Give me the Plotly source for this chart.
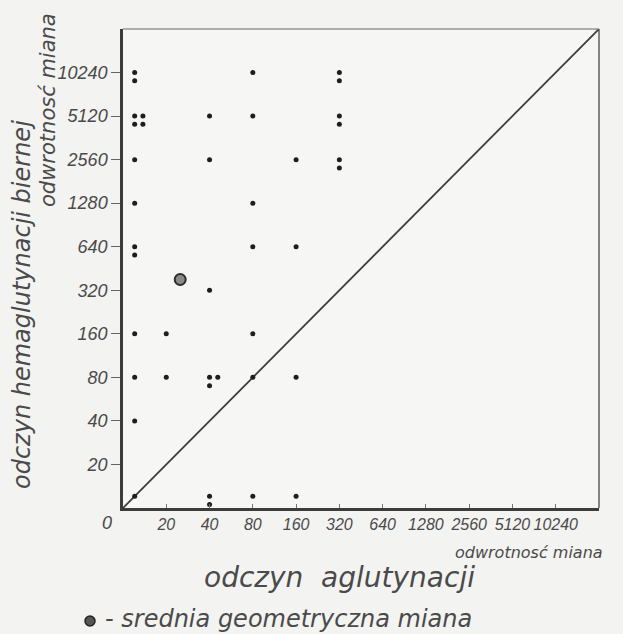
import math
import plotly.graph_objects as go

# Titer scale used on both axes (reciprocal of titer); 0 = no reaction
TITERS = [0, 20, 40, 80, 160, 320, 640, 1280, 2560, 5120, 10240]
TICK_LABELS = ["0", "20", "40", "80", "160", "320", "640", "1280", "2560", "5120", "10240"]

# Individual sera: agglutination titer (x) vs passive haemagglutination titer (y)
AGGL_TITER = [
    0, 0, 0, 0, 0, 0, 0, 0, 0, 0, 0, 0, 0, 0,
    20, 20,
    40, 40, 40, 40, 40, 40, 40, 40,
    80, 80, 80, 80, 80, 80, 80,
    160, 160, 160, 160,
    320, 320, 320, 320, 320, 320,
]
HEMAGGL_TITER = [
    10240, 10240, 5120, 5120, 5120, 5120, 2560, 1280, 640, 640, 160, 80, 40, 0,
    160, 80,
    5120, 2560, 320, 80, 80, 80, 0, 0,
    10240, 5120, 1280, 640, 160, 80, 0,
    2560, 640, 80, 0,
    10240, 10240, 5120, 5120, 2560, 2560,
]

# Geometric mean titer of the group
GEOMEAN_AGGL = 25
GEOMEAN_HEMAGGL = 380

INK = "#3c3c3c"
TEXT = "#4a4a4a"
BG = "#f3f3f1"

N_STEPS = len(TITERS)          # axis runs over 11 equal doubling steps
ZERO_NUDGE = 0.27              # zero titers drawn just inside the axes
STACK = 0.19                   # spacing of coincident points


def titer_pos(t):
    """Position on the doubling scale: 20 -> 1, 40 -> 2, ..."""
    if t <= 0:
        return ZERO_NUDGE
    return 1 + math.log2(t / 20)


# Spread coincident sera: 2nd below, 3rd to the right, 4th below-right
offsets = [(0, 0), (0, -1), (1, 0), (1, -1)]
seen = {}
px, py = [], []
for xt, yt in zip(AGGL_TITER, HEMAGGL_TITER):
    k = seen.get((xt, yt), 0)
    seen[(xt, yt)] = k + 1
    dx, dy = offsets[k % 4]
    px.append(titer_pos(xt) + dx * STACK)
    py.append(titer_pos(yt) + dy * STACK)

fig = go.Figure()

# line of equal titers
fig.add_trace(go.Scatter(
    x=[0, N_STEPS], y=[0, N_STEPS], mode="lines",
    line=dict(color=INK, width=1.8), hoverinfo="skip", showlegend=False,
))

fig.add_trace(go.Scatter(
    x=px, y=py, mode="markers",
    marker=dict(size=5, color="#1e1e1e"),
    showlegend=False,
))

fig.add_trace(go.Scatter(
    x=[titer_pos(GEOMEAN_AGGL)], y=[titer_pos(GEOMEAN_HEMAGGL)], mode="markers",
    marker=dict(size=11, color="#8a8a8a", line=dict(color="#2e2e2e", width=2)),
    showlegend=False,
))

# plot area in pixels
L, R, T, B = 123, 599, 29, 508
W, H = 623, 634


def xp(p):
    return (p - L) / (R - L)


def yp(p):
    return (B - p) / (B - T)


tick_font = dict(family="Liberation Sans, Arial, sans-serif",
                 size=16, color=TEXT, style="italic")
label_font = dict(family="DejaVu Sans, sans-serif", color=TEXT, style="italic", weight=200)

fig.update_xaxes(
    range=[0, N_STEPS], tickmode="array",
    tickvals=list(range(1, N_STEPS)), ticktext=TICK_LABELS[1:],
    ticks="inside", ticklen=4, tickcolor="#777", tickwidth=1, tickangle=0,
    showline=True, linecolor=INK, linewidth=2.5,
    showgrid=False, zeroline=False, tickfont=tick_font,
)
fig.update_yaxes(
    range=[0, N_STEPS], tickmode="array",
    tickvals=list(range(1, N_STEPS)), ticktext=TICK_LABELS[1:],
    ticks="outside", ticklen=9, tickcolor="#666", tickwidth=1,
    showline=True, linecolor=INK, linewidth=2.5,
    showgrid=False, zeroline=False, tickfont=dict(tick_font, size=18),
)

# thin top and right frame edges
fig.add_shape(type="line", xref="x domain", yref="y domain", x0=0, x1=1, y0=1, y1=1,
              line=dict(color="#666", width=1.2))
fig.add_shape(type="line", xref="x domain", yref="y domain", x0=1, x1=1, y0=0, y1=1,
              line=dict(color="#555", width=1.4))

ann = [
    dict(text="0", x=xp(107), y=yp(523), font=dict(tick_font, size=18)),
    dict(text="odczyn hemaglutynacji biernej", x=xp(22), y=yp(305), textangle=-90,
         font=dict(label_font, size=24)),
    dict(text="odwrotnosć miana", x=xp(48), y=yp(110), textangle=-90,
         font=dict(label_font, size=21)),
    dict(text="odwrotnosć miana", x=xp(605), y=yp(552), xanchor="right",
         font=dict(label_font, size=16)),
    dict(text="odczyn  aglutynacji", x=xp(339), y=yp(577),
         font=dict(label_font, size=28)),
    dict(text="- srednia geometryczna miana", x=xp(103), y=yp(619), xanchor="left",
         font=dict(label_font, size=24)),
]
for a in ann:
    a.setdefault("xanchor", "center")
    fig.add_annotation(xref="paper", yref="paper", showarrow=False, yanchor="middle", **a)

# legend symbol for the geometric mean
r = 5
fig.add_shape(type="circle", xref="paper", yref="paper",
              x0=xp(90 - r), x1=xp(90 + r), y0=yp(621 + r), y1=yp(621 - r),
              fillcolor="#555", line=dict(color="#222", width=1.5))

fig.update_layout(
    width=W, height=H,
    margin=dict(l=L, r=W - R, t=T, b=H - B),
    paper_bgcolor=BG, plot_bgcolor="#f6f6f4",
    showlegend=False,
)

fig.write_html("out.html")
